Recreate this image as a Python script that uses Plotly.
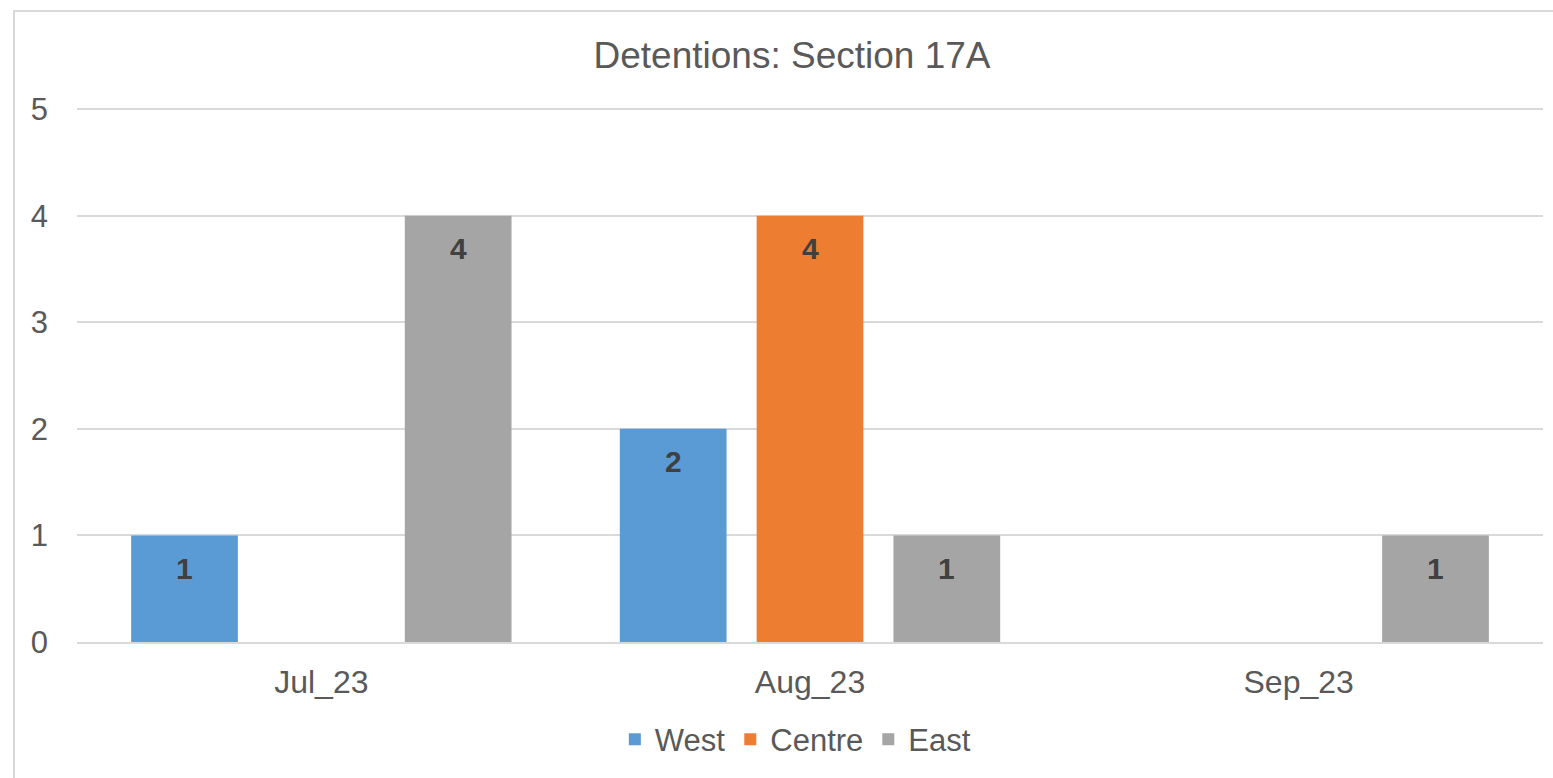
import plotly.graph_objects as go

# Monthly Section 17A detentions by area
months = ["Jul_23", "Aug_23", "Sep_23"]
west = [1, 2, 0]
centre = [0, 4, 0]
east = [4, 1, 1]

series_names = ["West", "Centre", "East"]
series_values = [west, centre, east]
series_colors = ["#5B9BD5", "#ED7D31", "#A5A5A5"]

FONT = "Liberation Sans, Arial, sans-serif"
TEXT_GREY = "#595959"
GRID_GREY = "#D9D9D9"

BARGAP = 0.16
N_SERIES = len(series_names)
slot = (1 - BARGAP) / N_SERIES

fig = go.Figure()
for name, vals, col in zip(series_names, series_values, series_colors):
    fig.add_trace(go.Bar(
        name=name, x=months, y=vals, marker=dict(color=col, line=dict(width=0)),
    ))

# Value labels just inside the top of each non-zero bar
annotations = []
for j, vals in enumerate(series_values):
    offset = (j - (N_SERIES - 1) / 2) * slot
    for i, v in enumerate(vals):
        if v == 0:
            continue
        annotations.append(dict(
            x=i + offset, y=v, xref="x", yref="y", text=f"<b>{v}</b>",
            showarrow=False, yanchor="middle", yshift=-33,
            font=dict(family=FONT, size=30, color="#404040"),
        ))

Y_TOP = 5.01  # a hair above 5 so the top gridline is drawn

fig.update_layout(
    width=1553, height=778,
    margin=dict(l=77, r=10, t=108, b=136),
    paper_bgcolor="white", plot_bgcolor="white",
    barmode="group", bargap=BARGAP, bargroupgap=0.22,
    font=dict(family=FONT, color=TEXT_GREY, size=31),
    title=dict(text="Detentions: Section 17A", x=0.51, xanchor="center",
               y=1 - 55 / 778, yanchor="middle", yref="container",
               font=dict(family=FONT, size=37, color=TEXT_GREY)),
    showlegend=True,
    legend=dict(orientation="h", x=0.49, xanchor="center", y=-0.183, yanchor="middle",
                font=dict(family=FONT, size=31, color=TEXT_GREY),
                itemwidth=30, traceorder="normal"),
    annotations=annotations,
    xaxis=dict(type="category", showgrid=False, showline=True, linecolor=GRID_GREY,
               linewidth=2, ticks="", ticklabelstandoff=11,
               tickfont=dict(family=FONT, size=32, color=TEXT_GREY)),
    yaxis=dict(range=[0, Y_TOP], tickvals=[0, 1, 2, 3, 4, 5], showgrid=True,
               gridcolor=GRID_GREY, gridwidth=2,
               zeroline=False, showline=False, ticks="", ticklabelstandoff=28,
               tickfont=dict(family=FONT, size=31, color=TEXT_GREY)),
    shapes=[dict(type="rect", xref="paper", yref="paper",
                 x0=(14 - 77) / 1466, x1=(1570 - 77) / 1466,
                 y0=(642 - 800) / 534, y1=1 + (108 - 11) / 534,
                 line=dict(color=GRID_GREY, width=2), layer="below")],
)

fig.write_html("out.html")
